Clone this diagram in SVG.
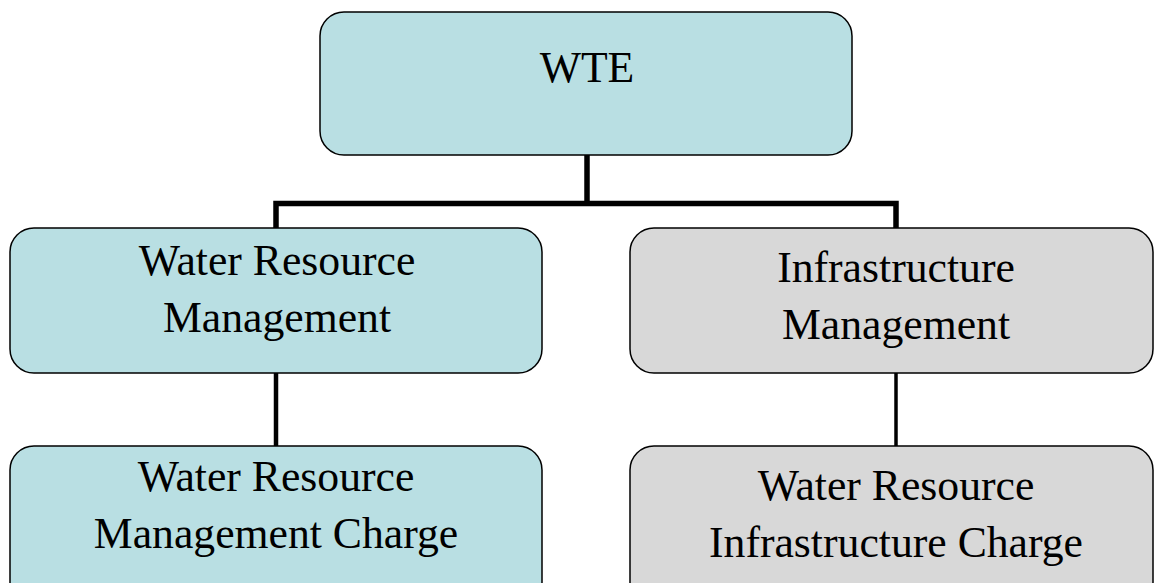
<svg xmlns="http://www.w3.org/2000/svg" width="1155" height="583" viewBox="0 0 1155 583">
  <style>
    .box { stroke: #000; stroke-width: 1.5; }
    .blue { fill: #B9DFE3; }
    .gray { fill: #D8D8D8; }
    .lbl { font-family: "Liberation Serif", "Times New Roman", serif; font-size: 43.7px; fill: #000; text-anchor: middle; }
    .conn { stroke: #000; fill: none; stroke-linecap: butt; stroke-linejoin: miter; }
  </style>
  <rect width="1155" height="583" fill="#fff"/>
  <g id="connectors">
    <polyline class="conn" stroke-width="5.5" points="276,228 276,203.5 896,203.5 896,228"/>
    <line class="conn" stroke-width="5.5" x1="587" y1="155" x2="587" y2="203.5"/>
    <line class="conn" stroke-width="4.5" x1="276" y1="373" x2="276" y2="446"/>
    <line class="conn" stroke-width="3.5" x1="896" y1="373" x2="896" y2="446"/>
  </g>
  <g id="node-wte">
    <rect class="box blue" x="320" y="12" width="532" height="143" rx="24" ry="24"/>
    <text class="lbl" x="587" y="82" font-size="42">WTE</text>
  </g>
  <g id="node-wrm">
    <rect class="box blue" x="10" y="228" width="532" height="145" rx="24" ry="24"/>
    <text class="lbl" x="277" y="275">Water Resource</text>
    <text class="lbl" x="277" y="332">Management</text>
  </g>
  <g id="node-im">
    <rect class="box gray" x="630" y="228" width="523" height="145" rx="24" ry="24"/>
    <text class="lbl" x="896" y="282">Infrastructure</text>
    <text class="lbl" x="896" y="339">Management</text>
  </g>
  <g id="node-wrmc">
    <rect class="box blue" x="10" y="446" width="532" height="160" rx="24" ry="24"/>
    <text class="lbl" x="276" y="491">Water Resource</text>
    <text class="lbl" x="276" y="548">Management Charge</text>
  </g>
  <g id="node-wric">
    <rect class="box gray" x="630" y="446" width="523" height="160" rx="24" ry="24"/>
    <text class="lbl" x="896" y="500">Water Resource</text>
    <text class="lbl" x="896" y="557">Infrastructure Charge</text>
  </g>
</svg>
